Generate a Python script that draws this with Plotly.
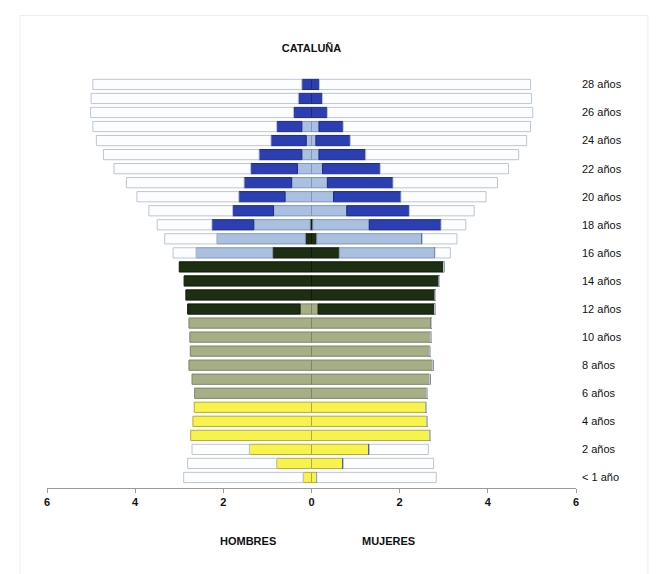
import plotly.graph_objects as go

# age rows, bottom to top
edades = ["< 1 año", "1 año"] + [f"{i} años" for i in range(2, 29)]
etiquetas = [e for i, e in enumerate(edades) if i % 2 == 0]

# HOMBRES (thousands) by level, per age 0..28
h_infantil = [0.19, 0.79, 1.41, 2.74, 2.69, 2.66] + [0] * 23
h_primaria = [0] * 6 + [2.65, 2.71, 2.78, 2.75, 2.76, 2.78, 0.26] + [0] * 16
h_eso = [0] * 12 + [2.55, 2.85, 2.89, 3.00, 0.88, 0.14, 0.03] + [0] * 10
h_postob = [0] * 16 + [1.74, 2.01, 1.28, 0.86, 0.60, 0.45, 0.32, 0.22, 0.12, 0.22, 0, 0, 0]
h_univ = [0] * 18 + [0.95, 0.93, 1.05, 1.08, 1.06, 0.97, 0.80, 0.57, 0.41, 0.30, 0.22]
h_total = [2.90, 2.81, 2.71, 2.74, 2.69, 2.66, 2.65, 2.71, 2.78, 2.75, 2.76, 2.78, 2.81,
           2.85, 2.89, 3.00, 3.14, 3.33, 3.50, 3.69, 3.96, 4.20, 4.48, 4.72, 4.88, 4.96,
           5.01, 5.00, 4.96]

# MUJERES
m_infantil = [0.12, 0.72, 1.31, 2.69, 2.62, 2.60] + [0] * 23
m_primaria = [0] * 6 + [2.62, 2.68, 2.75, 2.69, 2.71, 2.72, 0.15] + [0] * 16
m_eso = [0] * 12 + [2.65, 2.81, 2.90, 3.00, 0.63, 0.12, 0.03] + [0] * 10
m_postob = [0] * 16 + [2.17, 2.39, 1.28, 0.80, 0.50, 0.36, 0.25, 0.17, 0.10, 0.17, 0, 0, 0]
m_univ = [0] * 18 + [1.63, 1.42, 1.53, 1.49, 1.31, 1.06, 0.78, 0.55, 0.36, 0.25, 0.18]
m_total = [2.83, 2.77, 2.65, 2.69, 2.62, 2.60, 2.62, 2.68, 2.75, 2.69, 2.71, 2.72, 2.80,
           2.81, 2.90, 3.00, 3.15, 3.30, 3.50, 3.69, 3.96, 4.22, 4.47, 4.70, 4.88, 4.97,
           5.02, 4.99, 4.97]

niveles = [
    ("Infantil", h_infantil, m_infantil, "#f8f24c", "#b3ac3c"),
    ("Primaria", h_primaria, m_primaria, "#a6ae86", "#7c8566"),
    ("ESO", h_eso, m_eso, "#1d2e12", "#0f1a08"),
    ("Postobligatoria", h_postob, m_postob, "#abc0e0", "#8197b8"),
    ("Universidad", h_univ, m_univ, "#2b3fb2", "#1d2b84"),
]

fig = go.Figure()

h_resto = list(h_total)
m_resto = list(m_total)
for nombre, hv, mv, color, borde in niveles:
    h_resto = [r - v for r, v in zip(h_resto, hv)]
    m_resto = [r - v for r, v in zip(m_resto, mv)]
    fig.add_trace(go.Bar(y=edades, x=[-v for v in hv], orientation="h", name=nombre,
                         marker=dict(color=color, line=dict(color=borde, width=1)),
                         showlegend=False))
    fig.add_trace(go.Bar(y=edades, x=mv, orientation="h", name=nombre,
                         marker=dict(color=color, line=dict(color=borde, width=1)),
                         showlegend=False))

# not enrolled: white remainder out to the total
h_resto = [max(round(r, 3), 0) for r in h_resto]
m_resto = [max(round(r, 3), 0) for r in m_resto]
fig.add_trace(go.Bar(y=edades, x=[-v for v in h_resto], orientation="h", name="No escolarizados",
                     marker=dict(color="#fcfdff", line=dict(color="#bcc5d2", width=1)),
                     showlegend=False))
fig.add_trace(go.Bar(y=edades, x=m_resto, orientation="h", name="No escolarizados",
                     marker=dict(color="#fcfdff", line=dict(color="#bcc5d2", width=1)),
                     showlegend=False))

fig.update_layout(
    width=652, height=566,
    barmode="relative", bargap=0.27,
    margin=dict(l=39, r=84, t=68, b=86),
    paper_bgcolor="white", plot_bgcolor="white",
    font=dict(family="Liberation Sans, Arial, sans-serif", color="#111"),
    title=dict(text="<b>CATALUÑA</b>", x=0.5, xref="paper", xanchor="center",
               y=1 - 40 / 566, yref="container", yanchor="middle",
               font=dict(size=11, color="#111")),
    xaxis=dict(range=[-6, 6], tickvals=[-6, -4, -2, 0, 2, 4, 6],
               ticktext=["<b>6</b>", "<b>4</b>", "<b>2</b>", "<b>0</b>", "<b>2</b>", "<b>4</b>", "<b>6</b>"],
               showgrid=False, zeroline=False, showline=True, linecolor="#9a9a9a", linewidth=1,
               ticks="outside", ticklen=4, tickcolor="#9a9a9a",
               tickfont=dict(size=11, color="#111"), fixedrange=True),
    yaxis=dict(type="category", categoryarray=edades, range=[-0.75, 28.6],
               side="right", tickvals=etiquetas, ticktext=etiquetas,
               showgrid=False, zeroline=False, showline=False, ticks="",
               ticklabelstandoff=5,
               tickfont=dict(size=11, color="#111"), fixedrange=True),
)

fig.add_annotation(text="<b>HOMBRES</b>", x=-1.45, y=-0.128, xref="x", yref="paper",
                   yanchor="middle", showarrow=False, font=dict(size=11, color="#111"))
fig.add_annotation(text="<b>MUJERES</b>", x=1.75, y=-0.128, xref="x", yref="paper",
                   yanchor="middle", showarrow=False, font=dict(size=11, color="#111"))

# faint outer frame of the original figure
fig.add_shape(type="rect", xref="paper", yref="paper", x0=-0.051, x1=1.136, y0=-0.22, y1=1.147,
              line=dict(color="#ececec", width=1), layer="below")

fig.write_html("out.html")
